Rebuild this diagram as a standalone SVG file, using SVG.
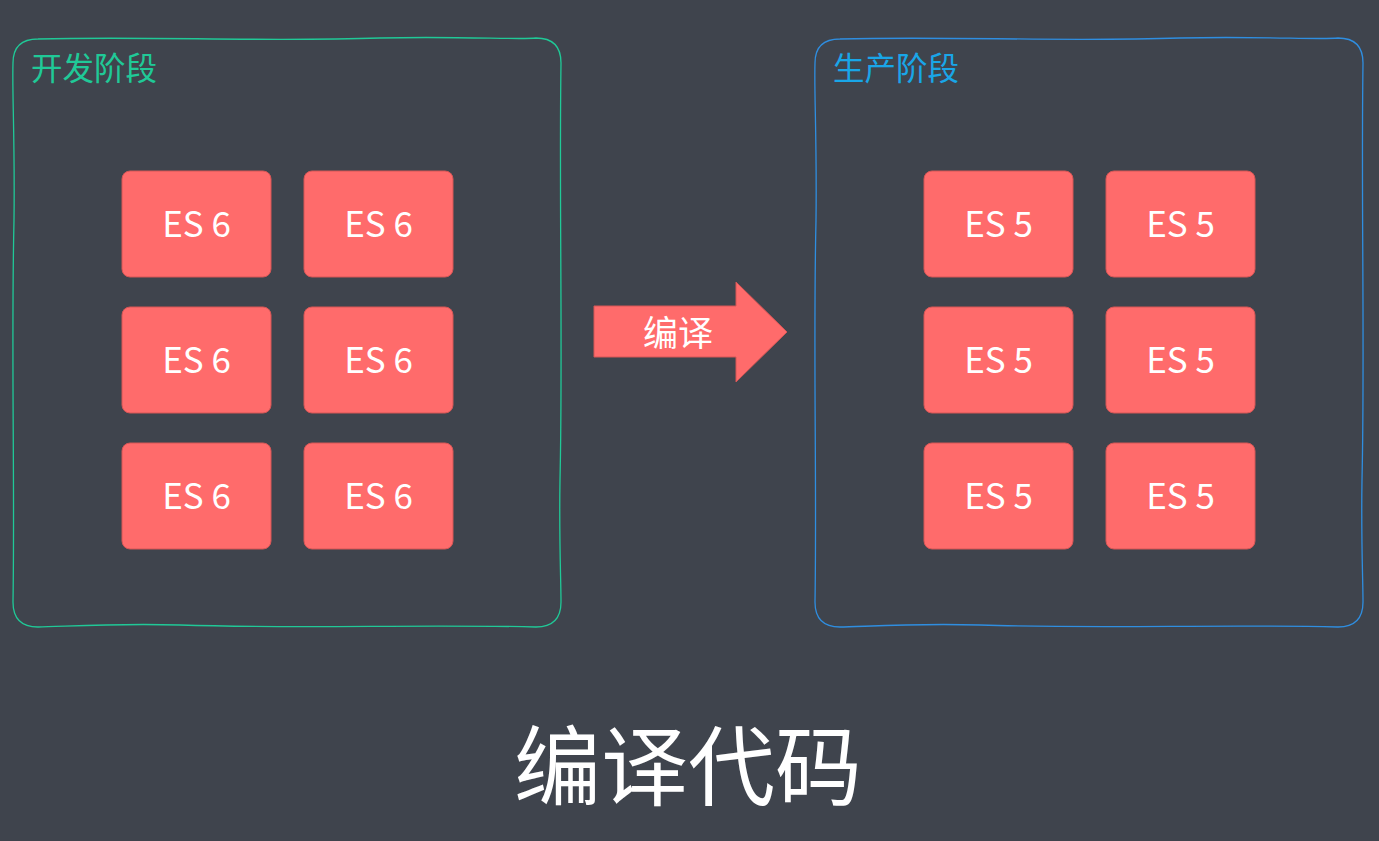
<svg xmlns="http://www.w3.org/2000/svg" width="1379" height="841" viewBox="0 0 1379 841">
<style>
.es rect{fill:#ff6b6b;stroke:#d65656;stroke-width:1}
.es text{fill:#ffffff;font-family:"Noto Sans CJK SC","Noto Sans",sans-serif;font-size:35px;text-anchor:middle;dominant-baseline:central}
.lbl{font-family:"Noto Sans CJK SC",sans-serif;font-size:31.5px}
.frame{fill:none;stroke-width:1.3}
</style>
<rect width="1379" height="841" fill="#3f444d"/>
<g id="dev-stage">
<path class="frame" stroke="#20c997" d="M38,39 C150,36 260,42 380,38 C460,36 520,40 536,38 Q561,38 561,63 C559,200 563,350 560,480 C559,540 561,580 561,602 Q561,627 536,627 C420,624 300,629 180,625 C110,623 60,627 38,627 Q13,627 13,602 C15,480 11,350 14,220 C15,140 12,90 13,63 Q13,39 38,39 Z"/>
<text class="lbl" x="31" y="80" fill="#20c997">开发阶段</text>
</g>
<g id="prod-stage">
<path class="frame" stroke="#2f8ee0" d="M840,39 C950,36 1060,42 1180,38 C1260,36 1320,40 1338,38 Q1363,38 1363,63 C1361,200 1365,350 1362,480 C1361,540 1363,580 1363,602 Q1363,627 1338,627 C1220,624 1100,629 980,625 C910,623 860,627 840,627 Q815,627 815,602 C817,480 813,350 816,220 C817,140 814,90 815,63 Q815,39 840,39 Z"/>
<text class="lbl" x="833" y="80" fill="#19a6e8">生产阶段</text>
</g>
<g id="es6-1" class="es"><rect x="122" y="171" width="149" height="106" rx="8"/><text x="196.5" y="221">ES 6</text></g>
<g id="es6-2" class="es"><rect x="304" y="171" width="149" height="106" rx="8"/><text x="378.5" y="221">ES 6</text></g>
<g id="es6-3" class="es"><rect x="122" y="307" width="149" height="106" rx="8"/><text x="196.5" y="357">ES 6</text></g>
<g id="es6-4" class="es"><rect x="304" y="307" width="149" height="106" rx="8"/><text x="378.5" y="357">ES 6</text></g>
<g id="es6-5" class="es"><rect x="122" y="443" width="149" height="106" rx="8"/><text x="196.5" y="493">ES 6</text></g>
<g id="es6-6" class="es"><rect x="304" y="443" width="149" height="106" rx="8"/><text x="378.5" y="493">ES 6</text></g>
<g id="es5-1" class="es"><rect x="924" y="171" width="149" height="106" rx="8"/><text x="998.5" y="221">ES 5</text></g>
<g id="es5-2" class="es"><rect x="1106" y="171" width="149" height="106" rx="8"/><text x="1180.5" y="221">ES 5</text></g>
<g id="es5-3" class="es"><rect x="924" y="307" width="149" height="106" rx="8"/><text x="998.5" y="357">ES 5</text></g>
<g id="es5-4" class="es"><rect x="1106" y="307" width="149" height="106" rx="8"/><text x="1180.5" y="357">ES 5</text></g>
<g id="es5-5" class="es"><rect x="924" y="443" width="149" height="106" rx="8"/><text x="998.5" y="493">ES 5</text></g>
<g id="es5-6" class="es"><rect x="1106" y="443" width="149" height="106" rx="8"/><text x="1180.5" y="493">ES 5</text></g>
<g id="connectors">
<g id="compile-arrow">
<polygon points="594,306 736,306 736,282 787,332 736,382 736,357 594,357" fill="#ff6b6b" stroke="#d65656" stroke-width="1"/>
<text x="678" y="330" fill="#ffffff" font-family="Noto Sans CJK SC, sans-serif" font-size="35" text-anchor="middle" dominant-baseline="central">编译</text>
</g>
</g>
<text id="title" x="688" y="761" fill="#ffffff" font-family="Noto Sans CJK SC, sans-serif" font-size="87" text-anchor="middle" dominant-baseline="central">编译代码</text>
</svg>
